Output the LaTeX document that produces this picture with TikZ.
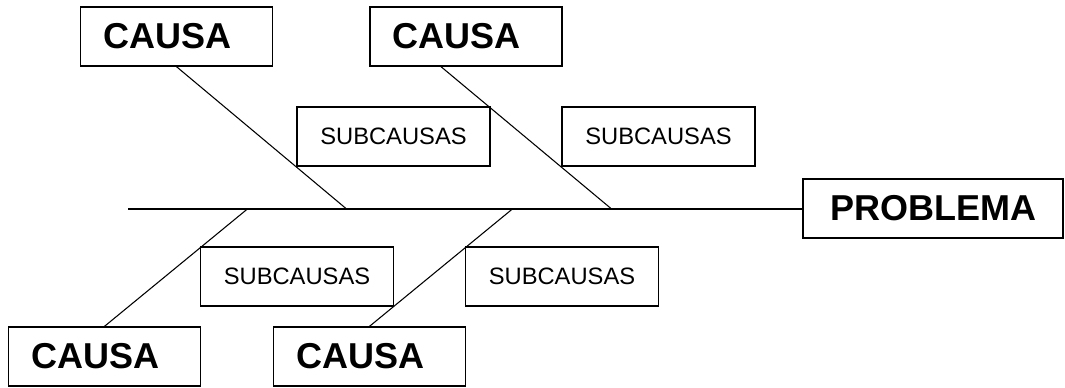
\documentclass[tikz,border=0pt]{standalone}
\usepackage{fontspec}
\setmainfont{Liberation Sans}
\usetikzlibrary{calc, positioning}

\begin{document}
\begin{tikzpicture}[
        x=0.75pt, y=-0.75pt,
        causa/.style={draw=black, rectangle, line width=1pt, inner xsep=17pt, align=left, text width=110pt, minimum height=44.25pt, font=\fontsize{27}{32}\selectfont\bfseries},
        sub/.style={draw=black, rectangle, line width=1pt, align=center, minimum width=144.75pt, minimum height=44.25pt, font=\fontsize{17.8}{21}\selectfont},
        efecto/.style={draw=black, rectangle, line width=1pt, align=center, minimum width=195pt, minimum height=44.25pt, font=\fontsize{27}{32}\selectfont\bfseries},
        espina/.style={line width=1.5pt, black},
        hueso/.style={line width=0.8pt, black}
      ]
        \useasboundingbox (0,0) rectangle (1065,387);

        % Nodes
        \node [causa] (c1) at (176.5,36.5) {CAUSA};
        \node [causa] (c2) at (466,36.5) {CAUSA};
        \node [causa] (c3) at (104.5,356.5) {CAUSA};
        \node [causa] (c4) at (369.5,356.5) {CAUSA};
        \node [sub] (s1) at (393.5,136.5) {SUBCAUSAS};
        \node [sub] (s2) at (658.5,136.5) {SUBCAUSAS};
        \node [sub] (s3) at (297,276.5) {SUBCAUSAS};
        \node [sub] (s4) at (562,276.5) {SUBCAUSAS};
        \node [efecto] (prob) at (933,208.5) {PROBLEMA};

        % Spine
        \coordinate (cola) at (128,208.5);
        \draw [espina] (cola) -- (prob);

        % Bones
        \coordinate (e1) at (346,208.5);
        \coordinate (e2) at (611,208.5);
        \coordinate (e3) at (248,208.5);
        \coordinate (e4) at (513,208.5);
        \draw [hueso] (c1.south) -- (e1);
        \draw [hueso] ([xshift=-18.75pt]c2.south) -- (e2);
        \draw [hueso] (c3.north) -- (e3);
        \draw [hueso] (c4.north) -- (e4);
      \end{tikzpicture}
\end{document}
